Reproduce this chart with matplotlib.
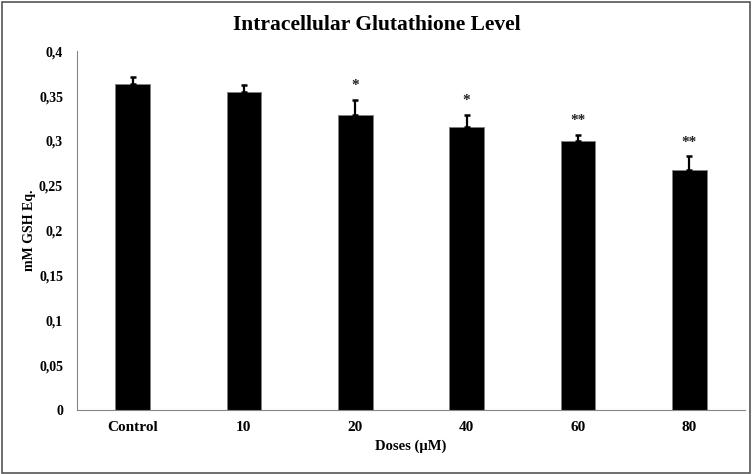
import matplotlib
matplotlib.use("Agg")
import matplotlib.pyplot as plt
from matplotlib.patches import Rectangle
from matplotlib.ticker import FuncFormatter
import numpy as np

# values
doses = ["Control", "10", "20", "40", "60", "80"]
gsh = [0.363, 0.355, 0.329, 0.316, 0.300, 0.267]
sd = [0.008, 0.007, 0.017, 0.013, 0.007, 0.016]
stars = ["", "", "*", "*", "**", "**"]

plt.rcParams['font.family'] = ['Liberation Serif', 'DejaVu Serif']
plt.rcParams['font.weight'] = 'bold'

fig = plt.figure(figsize=(7.54, 4.74), dpi=100)
ax = fig.add_axes((0.102, 0.135, 0.886, 0.757))

x = np.arange(len(doses))
ax.bar(x, gsh, width=0.31, color='black', edgecolor='#7f7f7f', linewidth=0.6, zorder=2)
ax.errorbar(x, gsh, yerr=[np.zeros(len(sd)), sd], fmt='none', ecolor='black',
            elinewidth=1.6, capsize=2, capthick=1.8, zorder=3)

for xi, v, e, s in zip(x, gsh, sd, stars):
    if s:
        ax.text(xi, v + e + 0.0085, s, ha='center', va='bottom', fontsize=11,
                fontweight='bold', color='#222222')

ax.set_xlim(-0.5, len(doses) - 0.5)
ax.set_ylim(0, 0.4)
ax.set_yticks(np.arange(0, 0.41, 0.05))
ax.yaxis.set_major_formatter(FuncFormatter(lambda v, p: f"{round(v, 2):g}".replace('.', ',')))
ax.set_xticks(x)
ax.set_xticklabels(doses)
ax.tick_params(axis='y', length=0, labelsize=10, pad=10)
ax.tick_params(axis='x', length=0, labelsize=11, pad=8)

for side in ('top', 'right'):
    ax.spines[side].set_visible(False)
for side in ('left', 'bottom'):
    ax.spines[side].set_color('#868686')
    ax.spines[side].set_linewidth(0.8)

ax.set_xlabel("Doses (µM)", fontsize=10.5, fontweight='bold', labelpad=4)
ax.set_ylabel("mM GSH Eq.", fontsize=10, fontweight='bold', labelpad=2)
fig.text(0.5, 0.948, "Intracellular Glutathione Level", ha='center', va='center',
         fontsize=15.5, fontweight='bold')

# frame around the whole chart
fig.patches.append(Rectangle((0.002, 0.003), 0.993, 0.993, transform=fig.transFigure,
                             fill=False, edgecolor='#555555', linewidth=1.2))

fig.savefig("out.png", dpi=100)
